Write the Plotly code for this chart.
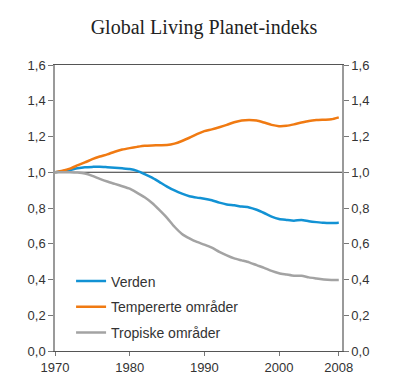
import plotly.graph_objects as go

years = list(range(1970, 2009))

verden = [1.000, 1.006, 1.013, 1.022, 1.028, 1.030, 1.031, 1.028, 1.025, 1.022,
          1.018, 1.008, 0.990, 0.970, 0.945, 0.920, 0.898, 0.880, 0.866, 0.858,
          0.852, 0.843, 0.830, 0.820, 0.815, 0.808, 0.803, 0.790, 0.772, 0.752,
          0.738, 0.733, 0.729, 0.733, 0.726, 0.721, 0.717, 0.716, 0.718]

tempererte = [1.000, 1.008, 1.020, 1.038, 1.055, 1.073, 1.088, 1.100, 1.115, 1.127,
              1.135, 1.142, 1.148, 1.150, 1.151, 1.152, 1.160, 1.175, 1.193, 1.213,
              1.230, 1.240, 1.252, 1.265, 1.280, 1.290, 1.293, 1.290, 1.278, 1.265,
              1.258, 1.260, 1.268, 1.278, 1.287, 1.292, 1.294, 1.296, 1.307]

tropiske = [1.000, 1.000, 1.000, 0.998, 0.993, 0.980, 0.963, 0.948, 0.935, 0.922,
            0.908, 0.885, 0.860, 0.828, 0.788, 0.745, 0.695, 0.655, 0.630, 0.610,
            0.595, 0.578, 0.555, 0.535, 0.518, 0.507, 0.496, 0.480, 0.465, 0.448,
            0.435, 0.428, 0.421, 0.421, 0.412, 0.406, 0.400, 0.397, 0.397]

series_names = ["Verden", "Tempererte områder", "Tropiske områder"]
series_colors = ["#1292D4", "#F07A12", "#A3A3A3"]
x_tickvals = [1970, 1980, 1990, 2000, 2008]
y_tickvals = [0.0, 0.2, 0.4, 0.6, 0.8, 1.0, 1.2, 1.4, 1.6]

fig = go.Figure()
for i, (name, vals, col) in enumerate(zip(series_names, [verden, tempererte, tropiske], series_colors)):
    fig.add_trace(go.Scatter(x=years, y=vals, mode="lines", name=name,
                             legendgroup=f"g{i}",
                             line=dict(color=col, width=2.5, shape="spline", smoothing=0.6)))

# trace for right axis
fig.add_trace(go.Scatter(x=[years[0]], y=[None], yaxis="y2", showlegend=False,
                         hoverinfo="skip", mode="lines"))

fig.add_shape(type="line", xref="paper", x0=0, x1=1, yref="y", y0=1.0, y1=1.0,
              line=dict(color="#333333", width=1), layer="below")

tickfont = dict(family="Liberation Sans, Arial, sans-serif", size=13, color="#333333")

H = 383
fig.update_layout(
    width=392, height=H,
    margin=dict(l=47, r=58, t=57, b=40),
    paper_bgcolor="white", plot_bgcolor="white",
    separators=",.",
    title=dict(text="Global Living Planet-indeks", x=0.5, xanchor="center",
               y=1 - 19 / H, yanchor="middle",
               font=dict(family="Liberation Serif, Times New Roman, serif", size=20, color="#222222")),
    xaxis=dict(range=[1970, 2008.43], tickvals=x_tickvals, ticktext=[str(v) for v in x_tickvals],
               showgrid=False, zeroline=False, showline=True, linecolor="#555555", linewidth=1,
               mirror=True, ticks="outside", ticklen=4, tickcolor="#777777",
               tickfont=tickfont),
    yaxis=dict(range=[0, 1.6], tickvals=y_tickvals, tickformat=".1f",
               showgrid=False, zeroline=False, showline=True, linecolor="#9a9a9a", linewidth=1.5,
               ticks="outside", ticklen=5, tickcolor="#777777", tickfont=tickfont),
    yaxis2=dict(range=[0, 1.6], tickvals=y_tickvals, tickformat=".1f", overlaying="y", side="right",
                showgrid=False, zeroline=False, showline=True, linecolor="#9a9a9a", linewidth=1.5,
                ticks="outside", ticklen=5, tickcolor="#777777", tickfont=tickfont),
    legend=dict(x=0.056, y=0.299, xanchor="left", yanchor="top", bgcolor="rgba(0,0,0,0)",
                font=dict(family="Liberation Sans, Arial, sans-serif", size=14, color="#333333"),
                traceorder="grouped", tracegroupgap=4.5),
    showlegend=True,
)

fig.write_html("out.html")
